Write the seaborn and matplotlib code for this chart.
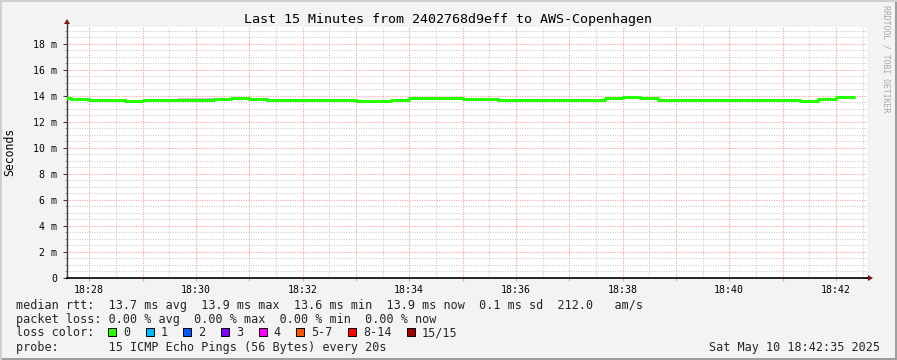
import matplotlib
matplotlib.use("Agg")
import matplotlib.pyplot as plt
import seaborn as sns
import numpy as np
import pandas as pd
from matplotlib.patches import Rectangle, Polygon
from matplotlib.ticker import MultipleLocator, FuncFormatter

# ---------------- data ----------------
step_times = ["18:27:20", "18:27:40", "18:28:00", "18:28:20", "18:28:40", "18:29:00",
              "18:29:20", "18:29:40", "18:30:00", "18:30:20", "18:30:40", "18:31:00",
              "18:31:20", "18:31:40", "18:32:00", "18:32:20", "18:32:40", "18:33:00",
              "18:33:20", "18:33:40", "18:34:00", "18:34:20", "18:34:40", "18:35:00",
              "18:35:20", "18:35:40", "18:36:00", "18:36:20", "18:36:40", "18:37:00",
              "18:37:20", "18:37:40", "18:38:00", "18:38:20", "18:38:40", "18:39:00",
              "18:39:20", "18:39:40", "18:40:00", "18:40:20", "18:40:40", "18:41:00",
              "18:41:20", "18:41:40", "18:42:00"]
data_end = "18:42:20"
median_ms = [13.83, 13.77, 13.66, 13.65, 13.60, 13.65,
             13.72, 13.72, 13.72, 13.77, 13.82, 13.77,
             13.70, 13.69, 13.69, 13.69, 13.69, 13.64,
             13.60, 13.72, 13.82, 13.82, 13.82, 13.78,
             13.73, 13.72, 13.72, 13.72, 13.72, 13.72,
             13.72, 13.82, 13.89, 13.82, 13.69, 13.68,
             13.68, 13.68, 13.68, 13.68, 13.68, 13.66,
             13.59, 13.75, 13.89]
smoke_lo_ms = [13.83, 13.77, 13.55, 13.55, 13.60, 13.65,
               13.72, 13.72, 13.72, 13.77, 13.82, 13.77,
               13.70, 13.69, 13.69, 13.69, 13.69, 13.64,
               13.60, 13.72, 13.82, 13.82, 13.82, 13.78,
               13.73, 13.56, 13.55, 13.56, 13.72, 13.72,
               13.72, 13.82, 13.89, 13.82, 13.55, 13.55,
               13.68, 13.68, 13.68, 13.68, 13.68, 13.66,
               13.50, 13.75, 13.89]
smoke_hi_ms = [13.83, 13.77, 13.66, 13.65, 13.60, 13.65,
               13.72, 13.82, 13.82, 13.77, 13.82, 13.77,
               13.70, 13.69, 13.80, 13.80, 13.80, 13.64,
               13.60, 13.72, 13.82, 13.82, 13.82, 13.78,
               13.82, 13.72, 13.72, 13.72, 13.72, 13.72,
               13.72, 13.82, 13.89, 13.82, 13.69, 13.68,
               13.68, 13.68, 13.80, 13.68, 13.68, 13.66,
               13.59, 13.75, 13.89]
window_start = "18:27:35"
window_end = "18:42:35"

title = "Last 15 Minutes from 2402768d9eff to AWS-Copenhagen"
ylabel = "Seconds"
watermark = "RRDTOOL / TOBI OETIKER"
stats_line = "median rtt:  13.7 ms avg  13.9 ms max  13.6 ms min  13.9 ms now  0.1 ms sd  212.0   am/s"
loss_line = "packet loss: 0.00 % avg  0.00 % max  0.00 % min  0.00 % now"
loss_labels = ["0", "1", "2", "3", "4", "5-7", "8-14", "15/15"]
loss_colors = ["#26ff00", "#00b8ff", "#0059ff", "#7e00ff", "#ff00ff", "#ff5500", "#ff0000", "#a10000"]
probe_line = "probe:       15 ICMP Echo Pings (56 Bytes) every 20s"
date_text = "Sat May 10 18:42:35 2025"

# ---------------- helpers ----------------
def to_min(s):
    h, m, sec = [int(v) for v in s.split(":")]
    return (h - 18) * 60 + m + sec / 60.0

W, H = 897, 360
def fx(px):
    return px / W
def fy(py):
    return 1 - py / H

t = [to_min(s) for s in step_times] + [to_min(data_end)]
med = median_ms + [median_ms[-1]]
lo = smoke_lo_ms + [smoke_lo_ms[-1]]
hi = smoke_hi_ms + [smoke_hi_ms[-1]]
df = pd.DataFrame({"t": t, "median": med, "lo": lo, "hi": hi})

# ---------------- figure ----------------
sns.set_theme(style="white")
plt.rcParams["font.family"] = ["DejaVu Sans Mono", "DejaVu Sans"]
BG = "#f3f3f3"
fig = plt.figure(figsize=(W / 100, H / 100), dpi=100, facecolor=BG)

# 3D frame
fig.add_artist(Rectangle((0, 0), 1, fy(H - 2) , transform=fig.transFigure, color="#9e9e9e", lw=0))
fig.add_artist(Rectangle((fx(W - 2), 0), fx(2), 1, transform=fig.transFigure, color="#9e9e9e", lw=0))
fig.add_artist(Rectangle((0, fy(2)), 1, fy(0) - fy(2), transform=fig.transFigure, color="#cfcfcf", lw=0))
fig.add_artist(Rectangle((0, 0), fx(2), 1, transform=fig.transFigure, color="#cfcfcf", lw=0))

ax = fig.add_axes([fx(67), fy(278), fx(867) - fx(67), fy(27) - fy(278)])
ax.set_facecolor("white")

x0, x1 = to_min(window_start), to_min(window_end)
ax.set_xlim(x0, x1)
ax.set_ylim(0, 19.3)

# grid
ax.xaxis.set_major_locator(MultipleLocator(1))
ax.xaxis.set_minor_locator(MultipleLocator(0.5))
ax.yaxis.set_major_locator(MultipleLocator(2))
ax.yaxis.set_minor_locator(MultipleLocator(0.5))
ax.grid(which="minor", color="#d0d0d0", linestyle=(0, (1, 1.2)), linewidth=0.8)
ax.grid(which="major", color="#f4a0a0", linestyle=(0, (1, 1.2)), linewidth=0.8)
ax.set_axisbelow(True)

# smoke and median
ax.fill_between(df["t"], df["lo"], df["hi"], step="post", color="#c8c8c8", lw=0, zorder=2)
sns.lineplot(data=df, x="t", y="median", drawstyle="steps-post", color="#26ff00",
             lw=2.2, ax=ax, zorder=3, estimator=None)

# ticks and labels
ax.xaxis.set_major_formatter(FuncFormatter(
    lambda v, p: "18:%02d" % int(round(v)) if int(round(v)) % 2 == 0 else ""))
ax.yaxis.set_major_formatter(FuncFormatter(
    lambda v, p: "0" if abs(v) < 1e-9 else "%d m" % int(round(v))))
ax.tick_params(axis="x", which="major", length=2, color="#f4a0a0", width=0.8,
               labelsize=7.1, pad=3, direction="out", bottom=True, labelcolor="#000000")
ax.tick_params(axis="x", which="minor", length=0)
ax.tick_params(axis="y", which="major", length=3, color="#404040", width=0.8,
               labelsize=7.1, pad=4, direction="out", left=True, labelcolor="#000000")
ax.tick_params(axis="y", which="minor", length=1.5, color="#808080", width=0.6, left=True)
ax.set_xlabel("")
ax.set_ylabel("")

for s in ["top", "right"]:
    ax.spines[s].set_visible(False)
ax.spines["left"].set_color("#404040")
ax.spines["left"].set_linewidth(1.0)
ax.spines["bottom"].set_color("#000000")
ax.spines["bottom"].set_linewidth(1.2)

# axis extensions and arrows
ARROW = "#801818"
ax.plot([0, 0], [1.0, 1.02], transform=ax.transAxes, color="#404040", lw=1.0, clip_on=False)
fig.add_artist(Polygon([[fx(64), fy(24)], [fx(70), fy(24)], [fx(67), fy(19)]],
                       closed=True, transform=fig.transFigure, color=ARROW, lw=0))
ax.plot([1.0, 1.003], [0, 0], transform=ax.transAxes, color="#000000", lw=1.2, clip_on=False)
fig.add_artist(Polygon([[fx(868), fy(275)], [fx(868), fy(281)], [fx(873), fy(278)]],
                       closed=True, transform=fig.transFigure, color=ARROW, lw=0))

# title, labels, watermark
fig.text(fx(448), fy(19), title, ha="center", va="center", fontsize=9.6, color="#000000")
fig.text(fx(10), fy(152), ylabel, ha="center", va="center", rotation=90, fontsize=8.3, color="#000000")
fig.text(fx(886), fy(5), watermark, ha="center", va="top", rotation=-90, fontsize=5.9, color="#a8a8a8")

# legend rows
LFS = 8.45
fig.text(fx(16), fy(308.5), stats_line, ha="left", va="baseline", fontsize=LFS)
fig.text(fx(16), fy(322.5), loss_line, ha="left", va="baseline", fontsize=LFS)
fig.text(fx(16), fy(336.5), "loss color:", ha="left", va="baseline", fontsize=LFS)
bx = 108.0
for lab, col in zip(loss_labels, loss_colors):
    fig.add_artist(Rectangle((fx(bx), fy(336)), fx(8) , fy(328) - fy(336), transform=fig.transFigure,
                             facecolor=col, edgecolor="#000000", lw=0.7))
    fig.text(fx(bx + 15), fy(336.5), lab, ha="left", va="baseline", fontsize=LFS)
    bx = bx + 15 + len(lab) * 7.07 + 15.6
fig.text(fx(16), fy(350.5), probe_line, ha="left", va="baseline", fontsize=LFS)
fig.text(fx(880), fy(350.5), date_text, ha="right", va="baseline", fontsize=LFS)

fig.savefig("out.png", dpi=100, facecolor=BG)
